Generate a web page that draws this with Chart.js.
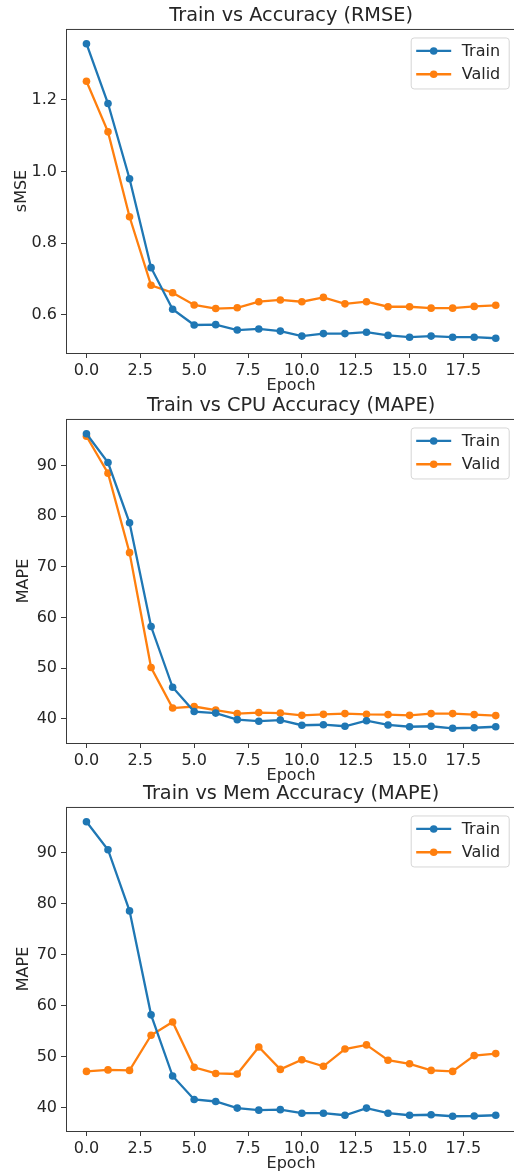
<!DOCTYPE html>
<html>
<head>
<meta charset="utf-8">
<script src="https://cdn.jsdelivr.net/npm/chart.js@4.4.1/dist/chart.umd.min.js"></script>
<style>
  html, body { margin: 0; padding: 0; background: #fff; overflow: hidden; }
  body { width: 514px; height: 1172px; position: relative; }
  canvas { position: absolute; left: 0; }
</style>
</head>
<body>
<canvas id="rmseChart" width="520" height="394" style="top:0px"></canvas>
<canvas id="cpuChart" width="520" height="394" style="top:390px"></canvas>
<canvas id="memChart" width="520" height="394" style="top:778px"></canvas>
<script>
// valores
const epochs = [0, 1, 2, 3, 4, 5, 6, 7, 8, 9, 10, 11, 12, 13, 14, 15, 16, 17, 18, 19];
const xTicks = [0, 2.5, 5, 7.5, 10, 12.5, 15, 17.5];

const rmseTrain = [1.357, 1.190, 0.980, 0.732, 0.616, 0.572, 0.573, 0.558, 0.561, 0.555, 0.541, 0.548, 0.548, 0.552, 0.543, 0.538, 0.541, 0.538, 0.538, 0.535];
const rmseValid = [1.252, 1.111, 0.874, 0.683, 0.662, 0.628, 0.618, 0.620, 0.637, 0.642, 0.637, 0.649, 0.631, 0.637, 0.623, 0.623, 0.619, 0.619, 0.624, 0.627];
const rmseTicks = [0.6, 0.8, 1.0, 1.2];

const cpuTrain = [96.3, 90.6, 78.7, 58.2, 46.2, 41.4, 41.1, 39.8, 39.5, 39.7, 38.7, 38.8, 38.5, 39.6, 38.75, 38.4, 38.5, 38.1, 38.2, 38.4];
const cpuValid = [95.8, 88.5, 72.8, 50.1, 42.1, 42.4, 41.7, 41.0, 41.2, 41.1, 40.65, 40.85, 41.0, 40.85, 40.8, 40.65, 41.0, 41.0, 40.8, 40.6];

const memTrain = [96.1, 90.6, 78.6, 58.2, 46.2, 41.6, 41.2, 39.9, 39.5, 39.6, 38.9, 38.9, 38.5, 39.9, 38.9, 38.5, 38.6, 38.3, 38.35, 38.5];
const memValid = [47.1, 47.4, 47.3, 54.2, 56.8, 47.9, 46.7, 46.6, 51.9, 47.5, 49.4, 48.1, 51.5, 52.3, 49.3, 48.6, 47.3, 47.1, 50.2, 50.6];
const mapeTicks = [40, 50, 60, 70, 80, 90];

const TRAIN_COLOR = '#1f77b4';
const VALID_COLOR = '#ff7f0e';
const TEXT_COLOR = '#262626';

Chart.defaults.font.family = "'DejaVu Sans', sans-serif";
Chart.defaults.color = TEXT_COLOR;

// moldura completa (os 4 lados) como no matplotlib
const moldura = {
  id: 'moldura',
  afterDraw(chart) {
    const { ctx, chartArea: a } = chart;
    ctx.save();
    ctx.strokeStyle = '#3a3a3a';
    ctx.lineWidth = 1;
    ctx.strokeRect(a.left + 0.5, a.top + 0.5, a.right - a.left - 1, a.bottom - a.top);
    ctx.restore();
  }
};

// legenda no estilo matplotlib (linha + marcador) no canto superior direito
const legendaMpl = {
  id: 'legendaMpl',
  afterDraw(chart) {
    const { ctx, chartArea: a } = chart;
    const w = 98, h = 51;
    const x = a.right - 7.5 - w;
    const y = a.top + 8.5;
    ctx.save();
    ctx.beginPath();
    ctx.roundRect(x + 0.5, y + 0.5, w, h, 3);
    ctx.fillStyle = 'rgba(255,255,255,0.8)';
    ctx.fill();
    ctx.strokeStyle = '#d6d6d6';
    ctx.lineWidth = 1;
    ctx.stroke();
    chart.data.datasets.forEach((ds, i) => {
      const ry = y + 13.5 + i * 23.3;
      ctx.strokeStyle = ds.borderColor;
      ctx.lineWidth = 2.3;
      ctx.beginPath();
      ctx.moveTo(x + 5.5, ry);
      ctx.lineTo(x + 40.5, ry);
      ctx.stroke();
      ctx.fillStyle = ds.borderColor;
      ctx.beginPath();
      ctx.arc(x + 23, ry, 3.8, 0, Math.PI * 2);
      ctx.fill();
      ctx.fillStyle = TEXT_COLOR;
      ctx.font = "16px 'DejaVu Sans'";
      ctx.textBaseline = 'middle';
      ctx.textAlign = 'left';
      ctx.fillText(ds.label, x + 51, ry + 1);
    });
    ctx.restore();
  }
};

// limites do eixo y como o autoscale do matplotlib (margem de 5%)
function limites(series) {
  const todos = series.flat();
  const min = Math.min(...todos), max = Math.max(...todos);
  const m = (max - min) * 0.05;
  return [min - m, max + m];
}

function criarPainel(id, titulo, yTitulo, train, valid, yTicks, casas, yPad) {
  const [ymin, ymax] = limites([train, valid]);
  const ctx = document.getElementById(id).getContext('2d');
  const serie = (vals, label, cor) => ({
    label: label,
    data: epochs.map((e, i) => ({ x: e, y: vals[i] })),
    borderColor: cor,
    backgroundColor: cor,
    borderWidth: 2.3,
    pointRadius: 3.8,
    pointHoverRadius: 3.8,
    pointBorderWidth: 0,
    tension: 0
  });

  return new Chart(ctx, {
    type: 'line',
    data: {
      datasets: [serie(train, 'Train', TRAIN_COLOR), serie(valid, 'Valid', VALID_COLOR)]
    },
    options: {
      responsive: false,
      animation: false,
      devicePixelRatio: 1,
      layout: { padding: { top: 0, right: 3, bottom: 0, left: 0 } },
      plugins: {
        legend: { display: false },
        tooltip: { enabled: false },
        title: {
          display: true,
          text: titulo,
          fullSize: false,
          color: TEXT_COLOR,
          font: { size: 19.3, weight: 'normal', lineHeight: 1.2 },
          padding: { top: 4.5, bottom: 1.3 }
        }
      },
      scales: {
        x: {
          type: 'linear',
          min: -0.95,
          max: 19.95,
          afterBuildTicks: s => { s.ticks = xTicks.map(v => ({ value: v })); },
          afterFit: s => { s.height = 41; },
          grid: { drawOnChartArea: false, drawTicks: true, tickLength: 5, color: '#3a3a3a' },
          border: { display: false },
          ticks: {
            autoSkip: false,
            maxRotation: 0,
            padding: 3,
            font: { size: 16 },
            color: TEXT_COLOR,
            callback: v => Number(v).toFixed(1)
          },
          title: {
            display: true,
            text: 'Epoch',
            color: TEXT_COLOR,
            font: { size: 16, lineHeight: 1.0 },
            padding: { top: 0, bottom: 0 }
          }
        },
        y: {
          type: 'linear',
          min: ymin,
          max: ymax,
          afterBuildTicks: s => { s.ticks = yTicks.map(v => ({ value: v })); },
          afterFit: s => { s.width = 66; },
          grid: { drawOnChartArea: false, drawTicks: true, tickLength: 5, color: '#3a3a3a' },
          border: { display: false },
          ticks: {
            autoSkip: false,
            padding: 4,
            font: { size: 16 },
            color: TEXT_COLOR,
            callback: v => Number(v).toFixed(casas)
          },
          title: {
            display: true,
            text: yTitulo,
            color: TEXT_COLOR,
            font: { size: 16, lineHeight: 1.2 },
            padding: { top: yPad, bottom: 0 }
          }
        }
      }
    },
    plugins: [moldura, legendaMpl]
  });
}

criarPainel('rmseChart', 'Train vs Accuracy (RMSE)', 'sMSE', rmseTrain, rmseValid, rmseTicks, 1, 12.5);
criarPainel('cpuChart', 'Train vs CPU Accuracy (MAPE)', 'MAPE', cpuTrain, cpuValid, mapeTicks, 0, 14.5);
criarPainel('memChart', 'Train vs Mem Accuracy (MAPE)', 'MAPE', memTrain, memValid, mapeTicks, 0, 14.5);
</script>
</body>
</html>
